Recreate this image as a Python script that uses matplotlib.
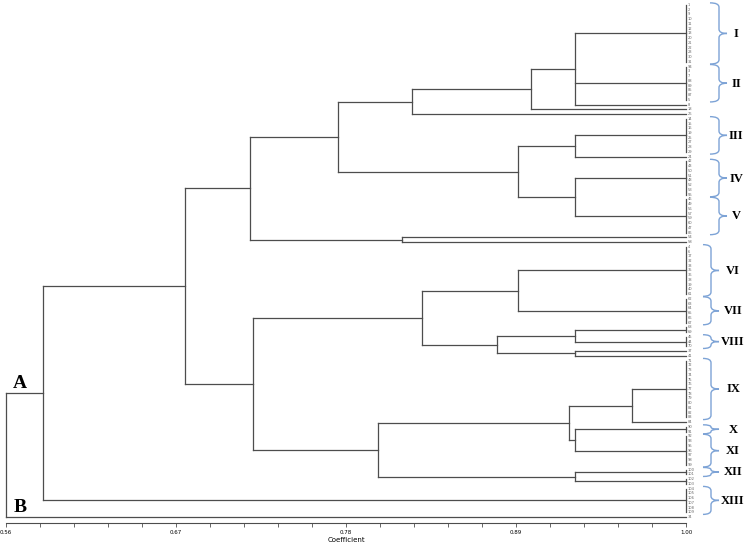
import matplotlib
matplotlib.use('Agg')
import numpy as np
import matplotlib.pyplot as plt
from matplotlib.collections import LineCollection
from matplotlib.path import Path
from matplotlib.patches import PathPatch
from matplotlib.transforms import blended_transform_factory


# Leaf groups from top to bottom; accessions inside a group are identical (coefficient 1.00)
GROUP_NAMES = ['I', 'II', 'a', 'b', 'c', 'III', 'd', 'IV', 'V', 'e', 'f',
               'VI', 'VII', 'g', 'VIII', 'h', 'i', 'IX', 'j', 'X', 'XI',
               'XII', 'k', 'XIII', 'B']
GROUP_SIZES = [13, 8, 1, 1, 1, 8, 1, 8, 8, 1, 1,
               11, 6, 2, 3, 1, 1, 13, 1, 2, 7,
               2, 2, 6, 1]

LEAF_LABELS = [
    '1', '2', '9', '10', '11', '12', '13', '20', '21', '22', '23', '30', '31',
    '94', '3', '7', '88', '89', '85', '87', '5',
    '8', '18', '26',
    '14', '15', '16', '19', '25', '27', '28', '29',
    '24',
    '42', '43', '50', '51', '48', '52', '53', '55',
    '46', '49', '56', '57', '59', '60', '47', '86',
    '54', '58',
    '4', '6', '17', '32', '33', '35', '36', '38', '39', '40', '61',
    '62', '63', '64', '65', '66', '67',
    '68', '69',
    '45', '44', '70',
    '37', '41',
    '71', '72', '73', '74', '75', '76', '77', '78', '79', '80', '81', '82', '83',
    '84',
    '90', '91',
    '92', '93', '95', '96', '97', '98', '99',
    '100', '101',
    '102', '103',
    '104', '105', '106', '107', '108', '109',
    '34',
]

# Merges (bottom-up): node name, similarity coefficient, joined members
MERGE_NAMES = ['n1', 'n2', 'n3', 'n4', 'n5', 'n6', 'n7', 'n8', 'n9', 'n10',
               'n11', 'n12', 'n13', 'n14', 'n15', 'n16', 'n17', 'n18', 'n19',
               'n20', 'n21', 'A', 'root']
MERGE_HEIGHTS = [0.928, 0.900, 0.823, 0.928, 0.928, 0.891, 0.775, 0.816, 0.718, 0.891,
                 0.928, 0.928, 0.878, 0.829, 0.965, 0.928, 0.924, 0.928, 0.801,
                 0.720, 0.676, 0.584, 0.560]
MERGE_CHILDREN = [['I', 'II', 'a'], ['n1', 'b'], ['n2', 'c'], ['III', 'd'], ['IV', 'V'],
                  ['n4', 'n5'], ['n3', 'n6'], ['e', 'f'], ['n7', 'n8'], ['VI', 'VII'],
                  ['g', 'VIII'], ['h', 'i'], ['n11', 'n12'], ['n10', 'n13'], ['IX', 'j'],
                  ['X', 'XI'], ['n15', 'n16'], ['XII', 'k'], ['n17', 'n18'],
                  ['n14', 'n19'], ['n9', 'n20'], ['n21', 'XIII'], ['A', 'B']]

UPPER_GROUPS = ['I', 'II', 'III', 'IV', 'V']
LOWER_GROUPS = ['VI', 'VII', 'VIII', 'IX', 'X', 'XI', 'XII', 'XIII']

X_TICKS = [0.56, 0.67, 0.78, 0.89, 1.00]

LINE_COLOR = '#4d4d4d'
BRACE_COLOR = '#7da3d6'
W, H = 750, 549

fig = plt.figure(figsize=(W / 100, H / 100), dpi=100)
ax = fig.add_axes([6 / W, (H - 523) / H, 680 / W, 523 / H])

# leaf positions
node_x, node_y, span = {}, {}, {}
start = 0
for name, n in zip(GROUP_NAMES, GROUP_SIZES):
    node_x[name] = 1.0
    node_y[name] = start + (n - 1) / 2
    span[name] = (start, start + n - 1)
    start += n
n_leaves = start

segments = []
for name in GROUP_NAMES:
    a, b = span[name]
    if b > a:
        segments.append([(1.0, a), (1.0, b)])

for name, h, kids in zip(MERGE_NAMES, MERGE_HEIGHTS, MERGE_CHILDREN):
    ys = [node_y[k] for k in kids]
    for k in kids:
        segments.append([(node_x[k], node_y[k]), (h, node_y[k])])
    segments.append([(h, min(ys)), (h, max(ys))])
    node_x[name] = h
    node_y[name] = (min(ys) + max(ys)) / 2

lc = LineCollection(segments, colors=LINE_COLOR, linewidths=0.9, clip_on=False,
                    capstyle='projecting')
ax.add_collection(lc)

spacing = 512 / (n_leaves - 1)
ax.set_xlim(0.56, 1.00)
ax.set_ylim((523 - 5) / spacing, -5 / spacing)

# tiny accession numbers next to the leaves
for i, lab in enumerate(LEAF_LABELS):
    ax.annotate(lab, (1.0, i), xytext=(1.2, 0), textcoords='offset points',
                fontsize=2.6, color='#666666', va='center', ha='left',
                annotation_clip=False)

# A / B labels
serif = ['Liberation Serif', 'DejaVu Serif']
for name in ['A', 'B']:
    ax.annotate(name, (0.56, node_y[name]), xytext=(10, 1), textcoords='offset points',
                ha='center', va='bottom', fontsize=14, fontweight='bold',
                family=serif, annotation_clip=False)

# braces with group numerals
trans = blended_transform_factory(fig.transFigure, ax.transData)


def draw_brace(name, x0, x1, x2, xtext):
    a, b = span[name]
    top, bot = a - 0.45, b + 0.45
    mid = (top + bot) / 2
    r = min(0.9, (bot - top) / 4)
    x0, x1, x2 = x0 / W, x1 / W, x2 / W
    verts = [(x0, top), (x1, top), (x1, top + r),
             (x1, mid - r), (x1, mid), (x2, mid),
             (x1, mid), (x1, mid + r),
             (x1, bot - r), (x1, bot), (x0, bot)]
    codes = [Path.MOVETO, Path.CURVE3, Path.CURVE3,
             Path.LINETO, Path.CURVE3, Path.CURVE3,
             Path.CURVE3, Path.CURVE3,
             Path.LINETO, Path.CURVE3, Path.CURVE3]
    patch = PathPatch(Path(verts, codes), transform=trans, facecolor='none',
                      edgecolor=BRACE_COLOR, linewidth=1.0, clip_on=False)
    fig.add_artist(patch)
    fig.text(xtext / W, 0, name, transform=trans, ha='center', va='center',
             fontsize=9, fontweight='bold', family=serif)
    fig.texts[-1].set_y(mid + 0.1)


for g in UPPER_GROUPS:
    draw_brace(g, 710, 719, 727, 736)
for g in LOWER_GROUPS:
    draw_brace(g, 703, 711, 719, 733)

# axis
for side in ['left', 'right', 'top']:
    ax.spines[side].set_visible(False)
ax.spines['bottom'].set_color(LINE_COLOR)
ax.spines['bottom'].set_linewidth(0.8)
ax.yaxis.set_visible(False)
ax.set_xticks(X_TICKS)
ax.set_xticklabels([f'{t:.2f}' for t in X_TICKS])
ax.set_xticks(np.linspace(0.56, 1.00, 21), minor=True)
ax.tick_params(axis='x', which='both', direction='out', length=3, width=0.6,
               color=LINE_COLOR, labelsize=4, pad=2)
ax.set_xlabel('Coefficient', fontsize=5, labelpad=1.5)

fig.savefig('out.png', dpi=100)
